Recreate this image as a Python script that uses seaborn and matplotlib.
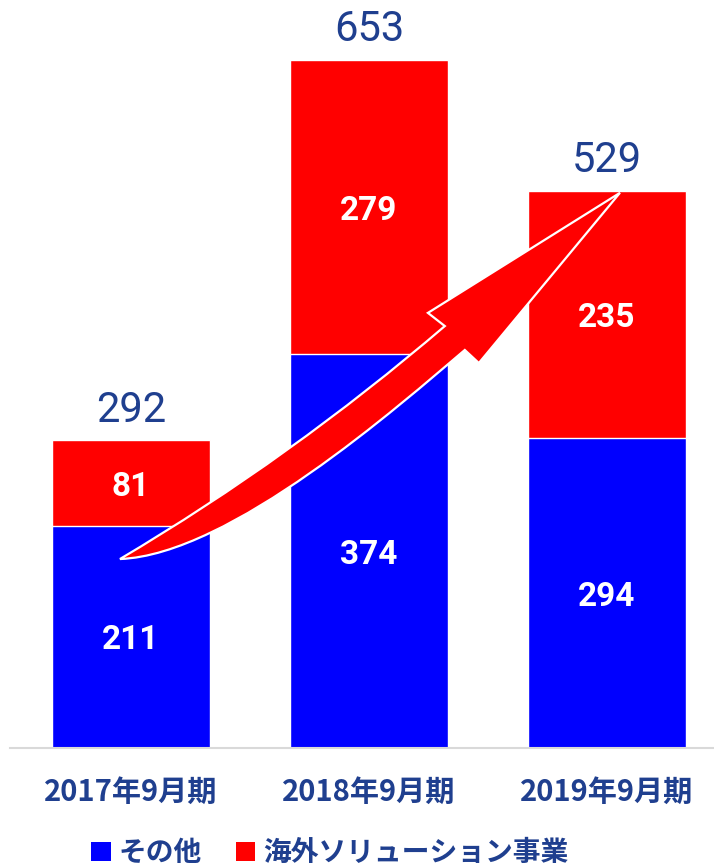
import matplotlib
matplotlib.use("Agg")
import matplotlib.pyplot as plt
from matplotlib.path import Path
from matplotlib.patches import PathPatch, Patch
import seaborn as sns
import pandas as pd

# Revenue by period (stacked): overseas solutions on top of "other"
periods = ["2017年9月期", "2018年9月期", "2019年9月期"]
other = [211, 374, 294]
overseas = [81, 279, 235]
totals = [292, 653, 529]

series_names = ["その他", "海外ソリューション事業"]
BLUE = "#0000FF"
RED = "#FF0000"
NAVY = "#1F3F8F"

sns.set_theme(style="white")
plt.rcParams["font.family"] = ["Roboto", "Noto Sans CJK JP", "DejaVu Sans"]

df = pd.DataFrame({"period": periods, "other": other,
                   "overseas": overseas, "total": totals})

fig = plt.figure(figsize=(7.14, 8.68), dpi=100)
ax = fig.add_axes([0.014, 0.1382, 0.986, 0.8497])

bw = 0.664
sns.barplot(data=df, x="period", y="total", color=RED, saturation=1,
            width=bw, ax=ax, zorder=2)
sns.barplot(data=df, x="period", y="other", color=BLUE, saturation=1,
            width=bw, ax=ax, zorder=2)

ax.set_xlim(-0.508, 2.45)
ax.set_ylim(0, 700)
ax.set_xlabel("")
ax.set_ylabel("")
ax.set_yticks([])
for s in ["top", "right", "left"]:
    ax.spines[s].set_visible(False)
ax.spines["bottom"].set_color("#D9D9D9")
ax.spines["bottom"].set_linewidth(1.5)
ax.tick_params(axis="x", length=0, pad=21)
for lab in ax.get_xticklabels():
    lab.set_family(["Liberation Sans Narrow", "Noto Sans CJK JP"])
    lab.set_fontweight("bold")
    lab.set_fontsize(21)
    lab.set_color(NAVY)

# segment labels
for i in range(len(periods)):
    ax.text(i, other[i] / 2, f"{other[i]}", ha="center",
            va="center_baseline", color="white", fontsize=24,
            fontweight="bold", zorder=5, family=["Roboto", "DejaVu Sans"])
    ax.text(i, other[i] + overseas[i] / 2, f"{overseas[i]}", ha="center",
            va="center_baseline", color="white", fontsize=24,
            fontweight="bold", zorder=5, family=["Roboto", "DejaVu Sans"])
    ax.annotate(f"{totals[i]}", xy=(i, totals[i]), xytext=(0, 7),
                textcoords="offset points", ha="center", va="bottom",
                color=NAVY, fontsize=30, family=["Roboto", "DejaVu Sans"],
                zorder=5)

# decorative growth arrow
verts = [
    (-0.046, 179.4),
    (0.674, 275.7), (1.319, 400.5),
    (1.248, 413.0),
    (2.055, 527.0),
    (1.462, 365.4),
    (1.403, 377.8),
    (1.130, 325.6), (0.416, 183.2), (-0.046, 179.4),
    (-0.046, 179.4),
]
codes = [Path.MOVETO,
         Path.CURVE3, Path.CURVE3,
         Path.LINETO, Path.LINETO, Path.LINETO, Path.LINETO,
         Path.CURVE4, Path.CURVE4, Path.CURVE4,
         Path.CLOSEPOLY]
arrow = PathPatch(Path(verts, codes), facecolor=RED, edgecolor="white",
                  linewidth=1.6, zorder=4, joinstyle="miter")
ax.add_patch(arrow)

handles = [Patch(facecolor=BLUE, edgecolor="none", label=series_names[0]),
           Patch(facecolor=RED, edgecolor="none", label=series_names[1])]
leg = fig.legend(handles=handles, loc="center", bbox_to_anchor=(0.462, 0.017),
                 ncol=2, frameon=False, handlelength=0.7, handleheight=0.7,
                 handletextpad=0.3, columnspacing=1.2,
                 prop={"family": ["Noto Sans CJK JP"], "weight": "bold",
                       "size": 20})
for t in leg.get_texts():
    t.set_color(NAVY)

fig.savefig("out.png", dpi=100)
